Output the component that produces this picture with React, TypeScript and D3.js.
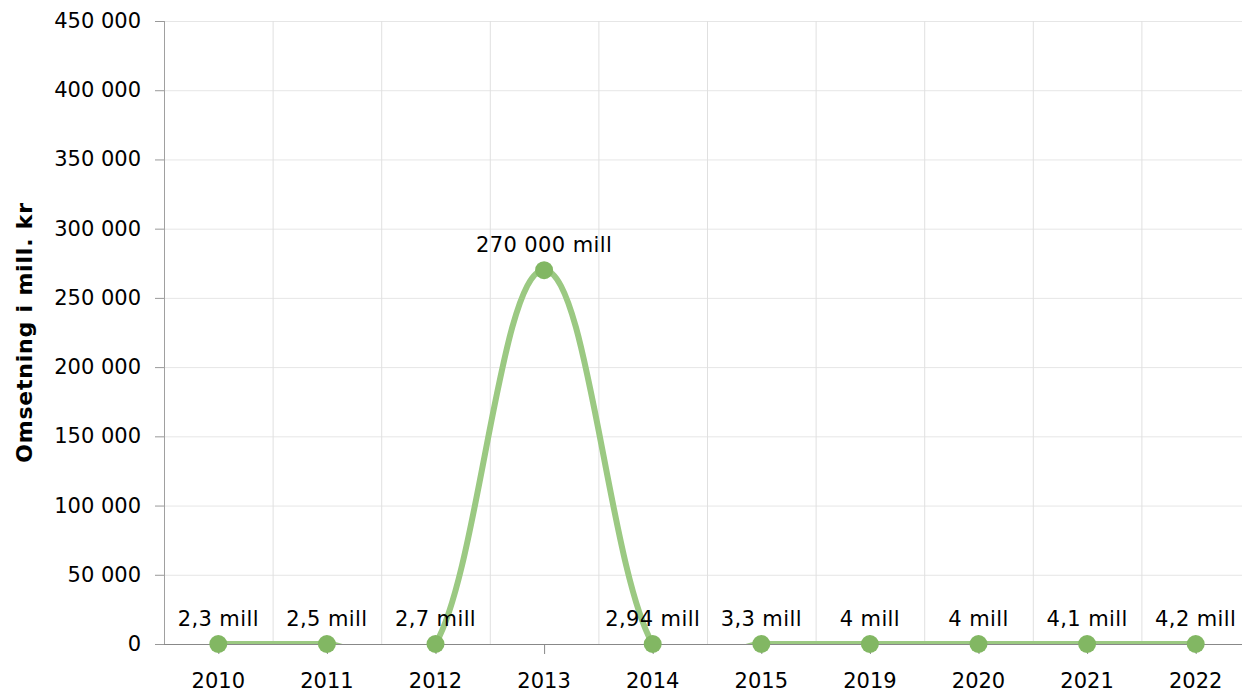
import * as d3 from 'd3'

const years = ['2010', '2011', '2012', '2013', '2014', '2015', '2019', '2020', '2021', '2022']
const values = [2.3, 2.5, 2.7, 270000, 2.94, 3.3, 4, 4, 4.1, 4.2]
const labels = ['2,3 mill', '2,5 mill', '2,7 mill', '270 000 mill', '2,94 mill', '3,3 mill', '4 mill', '4 mill', '4,1 mill', '4,2 mill']
const yTicks = [0, 50000, 100000, 150000, 200000, 250000, 300000, 350000, 400000, 450000]

const FONT = 'Verdana, "DejaVu Sans", sans-serif'

export default function App() {
  const width = 1242
  const height = 691
  const left = 164
  const right = 1250
  const top = 21
  const bottom = 644

  const x = d3.scaleBand().domain(years).range([left, right])
  const y = d3.scaleLinear().domain([0, 450000]).range([bottom, top])
  const cx = (d: string) => (x(d) ?? 0) + x.bandwidth() / 2

  const pts: [number, number][] = years.map((d, i) => [cx(d), y(values[i])])
  const line = d3.line().curve(d3.curveCardinal.tension(-0.2))(pts) ?? undefined

  const fmt = (v: number) => d3.format(',')(v).replace(/,/g, ' ')

  return (
    <svg width={width} height={height} style={{position: 'absolute', left: 0, top: 0}} fontFamily={FONT}>
      <defs>
        <clipPath id="plot">
          <rect x={left} y={top - 20} width={right - left} height={bottom - top + 20} />
        </clipPath>
      </defs>
      <rect width={width} height={height} fill="#fff" />
      {yTicks.map(t => (
        <line key={t} x1={left} x2={right} y1={y(t) + 0.5} y2={y(t) + 0.5} stroke="#e6e6e6" />
      ))}
      {years.slice(1).map(d => (
        <line key={d} x1={(x(d) ?? 0) + 0.5} x2={(x(d) ?? 0) + 0.5} y1={top} y2={bottom} stroke="#e0e0e0" />
      ))}
      {yTicks.map(t => (
        <line key={'t' + t} x1={left - 9} x2={left} y1={y(t) + 0.5} y2={y(t) + 0.5} stroke="#999" />
      ))}
      <line x1={left + 0.5} x2={left + 0.5} y1={top} y2={bottom} stroke="#a0a0a0" />
      {years.map(d => (
        <line key={'x' + d} x1={cx(d) + 0.5} x2={cx(d) + 0.5} y1={bottom} y2={bottom + 10} stroke="#888" />
      ))}
      <line x1={left} x2={right} y1={bottom + 0.5} y2={bottom + 0.5} stroke="#888" />
      <path d={line} fill="none" stroke="#9bc982" strokeWidth={6} clipPath="url(#plot)" />
      {pts.map(([px, py], i) => (
        <circle key={i} cx={px} cy={py} r={9} fill="#82b763" />
      ))}
      <g fontSize={21} fill="#000" textAnchor="middle">
        {pts.map(([px, py], i) => (
          <text key={i} x={px} y={py - 18} letterSpacing={0.4}>{labels[i]}</text>
        ))}
        {years.map(d => (
          <text key={d} x={cx(d)} y={688}>{d}</text>
        ))}
      </g>
      <g fontSize={21} fill="#000" textAnchor="end">
        {yTicks.map(t => (
          <text key={t} x={141} y={y(t) + 7}>{fmt(t)}</text>
        ))}
      </g>
      <text
        transform={`translate(32, ${(top + bottom) / 2}) rotate(-90)`}
        textAnchor="middle"
        fontSize={22}
        fontWeight="bold"
        letterSpacing={0.8}
      >
        Omsetning i mill. kr
      </text>
    </svg>
  )
}
